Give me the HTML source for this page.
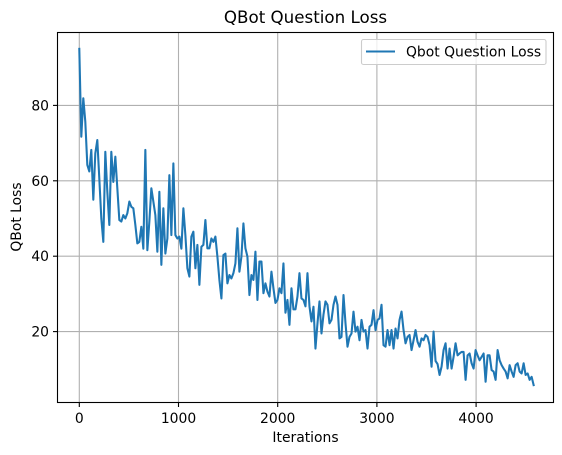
<!DOCTYPE html>
<html><head><meta charset="utf-8"><style>
body{margin:0;background:#fff;}
svg{display:block;font-family:"DejaVu Sans","Liberation Sans",sans-serif;}
</style></head><body>
<svg id="chart" width="562" height="455" viewBox="0 0 562 455">
<g id="grid"></g>
<g id="axes"></g>
<polyline id="line" fill="none" stroke="#1f77b4" stroke-width="2.08" stroke-linejoin="round" stroke-linecap="square"/>
<rect x="57.5" y="32.5" width="496" height="370" fill="none" stroke="#000" stroke-width="1.1"/>
<text x="305.5" y="23" font-size="16.7" text-anchor="middle">QBot Question Loss</text>
<text x="305.5" y="442" font-size="13.9" text-anchor="middle">Iterations</text>
<text x="21" y="217" font-size="13.9" text-anchor="middle" transform="rotate(-90 21 217)">QBot Loss</text>
<g>
<rect x="361.5" y="39.5" width="184.5" height="25" rx="2" fill="#fff" fill-opacity="0.8" stroke="#ccc" stroke-width="1.1"/>
<line x1="366" y1="51.5" x2="395" y2="51.5" stroke="#1f77b4" stroke-width="2.08"/>
<text x="406" y="56.5" font-size="13.9">Qbot Question Loss</text>
</g>
</svg>
<script>
const xTicks=[0,1000,2000,3000,4000];
const yTicks=[20,40,60,80];
const lastIter=4580;
const loss=[95,71.7,81.9,75.7,64.2,62.5,68.2,55,67.3,70.8,60.6,50,43.8,67.7,57.1,48.3,67.7,59.7,66.4,58,49.6,49.2,50.9,50,51.4,54.5,53.1,52.7,48.3,43.4,43.8,47.8,42,68.2,41.6,49.2,58,54.5,50.9,41.2,57.1,37.7,52.7,40.7,44.7,61.5,45.6,64.6,45.6,44.7,45.2,42,52.7,45.6,36.8,
34.6,45.2,46.5,36.8,43,32.4,42.5,43,49.6,42.1,42.1,44.7,43.8,45.2,39.9,33.7,28.8,40.3,40.7,32.8,35,34.1,35.5,38.1,47.4,35.9,39.9,48.7,42.1,39.9,29.7,35,33.7,41.2,28.4,38.6,38.6,30.2,32.8,30.6,29.3,35.9,31.5,27.6,28.4,31.5,30.2,38.1,25,28.4,21.8,31.5,25.9,25.9,29.3,35.5,28.8,28.4,26.7,35.5,26.7,22.7,
26.6,15.5,22.2,28,19.5,24.5,28,27.1,22.2,23.1,27.1,29.3,27.1,18.2,18.6,29.7,22.2,16,18.6,19.5,25.3,20,21.3,17.7,23.1,20,20.4,15.5,21.3,21.8,25.7,20.4,23.1,23.5,27.1,16.4,16,20.4,16.4,20.4,15.5,20.8,18.2,23.1,25.3,20.4,16.9,18.6,19.1,15.1,17.7,20.4,17.3,16,18.2,17.7,19.1,18.6,16.4,10.7,
20,12.2,11.4,8.5,10.7,15.1,16.9,10.2,15.5,10.2,13.3,16.9,13.7,14.2,14.6,14.6,7.2,13.7,14.2,11.6,10.2,15.1,13.7,12.4,13.3,14.2,6.7,13.7,13.7,9.8,9.4,7.2,15.1,12.4,11.1,10.2,9.4,7.6,11.1,9.4,8,11.1,11.6,9.4,8.9,11.6,8.5,8.9,7.2,8,5.8];
const NS='http://www.w3.org/2000/svg';
function xs(v){return 79.3+v*0.0992;}
function ys(v){return 407-v*3.77;}
const grid=document.getElementById('grid'),axes=document.getElementById('axes');
function mk(tag,attrs,parent){const e=document.createElementNS(NS,tag);for(const k in attrs)e.setAttribute(k,attrs[k]);parent.appendChild(e);return e;}
xTicks.forEach(t=>{
 const x=xs(t);
 const g=mk('line',{x1:x,x2:x,y1:32.5,y2:402.5,stroke:'#b0b0b0','stroke-width':1.1},grid);
 
 
 mk('line',{x1:x,x2:x,y1:402.5,y2:407,stroke:'#000','stroke-width':1.1},axes);
 const tx=mk('text',{x:x,y:423,'font-size':13.9,'text-anchor':'middle'},axes);
 tx.textContent=t;
 
 
});
yTicks.forEach(t=>{
 const y=ys(t);
 const g=mk('line',{x1:57.5,x2:553.5,y1:y,y2:y,stroke:'#b0b0b0','stroke-width':1.1},grid);
 
 
 mk('line',{x1:53,x2:57.5,y1:y,y2:y,stroke:'#000','stroke-width':1.1},axes);
 const tx=mk('text',{x:49,y:y+5,'font-size':13.9,'text-anchor':'end'},axes);
 tx.textContent=t;
 
 
});
const step=lastIter/(loss.length-1);
document.getElementById('line').setAttribute('points',loss.map((v,i)=>xs(i*step).toFixed(2)+','+ys(v).toFixed(2)).join(' '));
</script>
</body></html>
